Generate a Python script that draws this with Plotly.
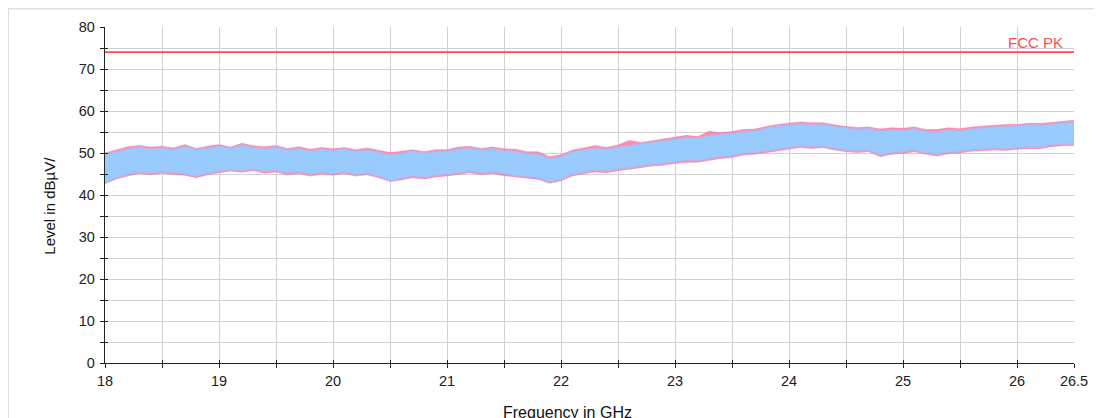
import plotly.graph_objects as go

# ---------------- data ----------------
freq_ghz = [
    18.0, 18.1, 18.2, 18.3, 18.4, 18.5, 18.6, 18.7, 18.8, 18.9,
    19.0, 19.1, 19.2, 19.3, 19.4, 19.5, 19.6, 19.7, 19.8, 19.9,
    20.0, 20.1, 20.2, 20.3, 20.4, 20.5, 20.6, 20.7, 20.8, 20.9,
    21.0, 21.1, 21.2, 21.3, 21.4, 21.5, 21.6, 21.7, 21.8, 21.9,
    22.0, 22.1, 22.2, 22.3, 22.4, 22.5, 22.6, 22.7, 22.8, 22.9,
    23.0, 23.1, 23.2, 23.3, 23.4, 23.5, 23.6, 23.7, 23.8, 23.9,
    24.0, 24.1, 24.2, 24.3, 24.4, 24.5, 24.6, 24.7, 24.8, 24.9,
    25.0, 25.1, 25.2, 25.3, 25.4, 25.5, 25.6, 25.7, 25.8, 25.9,
    26.0, 26.1, 26.2, 26.3, 26.4, 26.5,
]

# blue trace: upper / lower envelope of the noise band (dBµV/m)
blue_upper = [
    49.5, 50.2, 50.8, 51.3, 50.9, 51.1, 50.6, 51.4, 50.7, 51.0,
    51.5, 51.0, 51.8, 51.2, 50.9, 51.3, 50.6, 50.9, 50.4, 50.8,
    50.5, 50.9, 50.2, 50.6, 50.1, 49.5, 49.8, 50.3, 49.9, 50.2,
    50.3, 50.8, 51.1, 50.6, 50.9, 50.4, 50.2, 49.8, 49.6, 48.6,
    49.0, 50.2, 50.6, 51.0, 50.7, 51.3, 51.6, 52.0, 52.4, 52.8,
    53.2, 53.6, 53.4, 54.0, 54.3, 54.6, 55.0, 55.2, 55.8, 56.3,
    56.5, 56.9, 56.6, 56.8, 56.2, 55.8, 55.5, 55.7, 55.2, 55.4,
    55.3, 55.6, 55.0, 54.8, 55.4, 55.2, 55.6, 55.9, 56.0, 56.2,
    56.3, 56.6, 56.4, 56.8, 57.0, 57.3,
]
blue_lower = [
    43.0, 44.2, 45.0, 45.6, 45.3, 45.7, 45.4, 45.2, 44.6, 45.3,
    45.8, 46.2, 45.9, 46.3, 45.8, 46.0, 45.4, 45.6, 45.1, 45.5,
    45.2, 45.6, 45.0, 45.3, 44.6, 43.6, 44.1, 44.6, 44.3, 44.8,
    45.0, 45.4, 45.8, 45.3, 45.6, 45.2, 44.8, 44.4, 44.2, 43.2,
    43.8, 45.0, 45.6, 46.0, 45.8, 46.3, 46.6, 47.0, 47.4, 47.6,
    48.0, 48.4, 48.3, 48.8, 49.2, 49.5, 50.0, 50.2, 50.6, 51.0,
    51.4, 51.8, 51.6, 51.8, 51.2, 50.8, 50.6, 50.8, 49.6, 50.2,
    50.4, 50.8, 50.2, 49.8, 50.3, 50.5, 50.9, 51.0, 51.2, 51.1,
    51.4, 51.6, 51.5, 52.0, 52.2, 52.3,
]

# pink trace: upper / lower envelope (peeks out around the blue band)
pink_upper = [
    50.0, 50.7, 51.5, 51.8, 51.4, 51.6, 51.2, 52.0, 51.1, 51.6,
    52.0, 51.4, 52.3, 51.7, 51.5, 51.8, 51.1, 51.5, 50.9, 51.3,
    51.0, 51.3, 50.8, 51.2, 50.6, 50.1, 50.4, 50.8, 50.3, 50.8,
    50.8, 51.4, 51.6, 51.1, 51.4, 51.0, 50.9, 50.3, 50.3, 49.1,
    49.6, 50.7, 51.2, 51.8, 51.3, 51.9, 53.0, 52.5, 52.9, 53.3,
    53.7, 54.2, 53.9, 55.2, 54.8, 55.1, 55.6, 55.7, 56.3, 56.8,
    57.1, 57.4, 57.2, 57.2, 56.7, 56.3, 56.1, 56.2, 55.7, 56.0,
    55.9, 56.2, 55.6, 55.6, 56.0, 55.8, 56.2, 56.4, 56.6, 56.8,
    56.8, 57.1, 57.0, 57.3, 57.5, 57.8,
]
pink_lower = [
    42.7, 43.8, 44.5, 45.1, 44.8, 45.2, 44.9, 44.7, 44.1, 44.8,
    45.3, 45.7, 45.4, 45.8, 45.2, 45.5, 44.8, 45.1, 44.5, 45.0,
    44.7, 45.1, 44.5, 44.8, 44.1, 43.2, 43.6, 44.1, 43.8, 44.3,
    44.5, 44.9, 45.3, 44.8, 45.1, 44.6, 44.3, 43.9, 43.7, 42.8,
    43.4, 44.5, 45.1, 45.5, 45.3, 45.8, 46.1, 46.5, 46.9, 47.1,
    47.5, 47.8, 47.8, 48.3, 48.7, 48.9, 49.5, 49.7, 50.1, 50.5,
    50.9, 51.3, 51.1, 51.3, 50.7, 50.3, 50.1, 50.3, 49.1, 49.7,
    49.9, 50.3, 49.7, 49.3, 49.8, 50.0, 50.4, 50.5, 50.7, 50.6,
    50.9, 51.1, 51.0, 51.5, 51.7, 51.8,
]

# limit line
limit_name = "FCC PK"
limit_freq = [18.0, 26.5]
limit_level = [74, 74]

# axis ticks
x_tickvals = [18.0, 18.5, 19.0, 19.5, 20.0, 20.5, 21.0, 21.5, 22.0, 22.5,
              23.0, 23.5, 24.0, 24.5, 25.0, 25.5, 26.0, 26.5]
x_ticktext = ["18", "", "19", "", "20", "", "21", "", "22", "",
              "23", "", "24", "", "25", "", "26", "26.5"]
y_tickvals = [0, 5, 10, 15, 20, 25, 30, 35, 40, 45, 50, 55, 60, 65, 70, 75, 80]
y_ticktext = ["0", "", "10", "", "20", "", "30", "", "40", "", "50", "",
              "60", "", "70", "", "80"]

x_title = "Frequency in GHz"
y_title = "Level in dBµV/"

# ---------------- styling ----------------
FONT = "Liberation Sans, Arial, sans-serif"
PINK = "rgba(255,100,150,0.75)"
BLUE = "#99cbff"
BLUE_EDGE = "rgba(153,203,255,0.55)"
RED = "#ff4d4d"
GRID = "#d2d2d2"
AXIS = "#222222"

# page body has an 8px margin, so the figure starts at (8, 8) on screen
W, H = 1094, 410
ML, MR, MT, MB = 97.3, 27.7, 18.7, 54.7
PW = W - ML - MR
PH = H - MT - MB

fig = go.Figure()

# pink band
fig.add_trace(go.Scatter(x=freq_ghz, y=pink_lower, mode="lines",
                         line=dict(color=PINK, width=0.5), showlegend=False,
                         hoverinfo="skip"))
fig.add_trace(go.Scatter(x=freq_ghz, y=pink_upper, mode="lines",
                         line=dict(color=PINK, width=0.5), fill="tonexty",
                         fillcolor=PINK, showlegend=False, hoverinfo="skip"))
# blue band
fig.add_trace(go.Scatter(x=freq_ghz, y=blue_lower, mode="lines",
                         line=dict(color=BLUE_EDGE, width=3), showlegend=False,
                         hoverinfo="skip"))
fig.add_trace(go.Scatter(x=freq_ghz, y=blue_upper, mode="lines",
                         line=dict(color=BLUE_EDGE, width=3), fill="tonexty",
                         fillcolor=BLUE, showlegend=False, hoverinfo="skip"))
# limit line
fig.add_trace(go.Scatter(x=limit_freq, y=limit_level, mode="lines",
                         line=dict(color=RED, width=1.8), showlegend=False,
                         hoverinfo="skip"))
# dummy trace for the overlay (inside tick) axes
fig.add_trace(go.Scatter(x=[None], y=[None], xaxis="x2", yaxis="y2",
                         showlegend=False, hoverinfo="skip"))

axis_common = dict(
    showgrid=True, gridcolor=GRID, gridwidth=1,
    showline=True, linecolor=AXIS, linewidth=1.3,
    ticks="outside", ticklen=4, tickcolor=AXIS, tickwidth=1,
    tickfont=dict(family=FONT, size=14.5, color=AXIS),
    zeroline=False, fixedrange=True, tickmode="array",
)

fig.update_layout(
    width=W, height=H,
    margin=dict(l=ML, r=MR, t=MT, b=MB, pad=0),
    paper_bgcolor="white", plot_bgcolor="white",
    showlegend=False,
    xaxis=dict(range=[18, 26.5], tickvals=x_tickvals, ticktext=x_ticktext,
               **axis_common),
    yaxis=dict(range=[0, 80], tickvals=y_tickvals, ticktext=y_ticktext,
               ticklabelstandoff=2, **axis_common),
    xaxis2=dict(range=[18, 26.5], overlaying="x", side="bottom",
                tickmode="array", tickvals=x_tickvals, showticklabels=False,
                ticks="inside", ticklen=3, tickcolor=AXIS, showgrid=False,
                showline=False, zeroline=False, fixedrange=True),
    yaxis2=dict(range=[0, 80], overlaying="y", side="left",
                tickmode="array", tickvals=y_tickvals, showticklabels=False,
                ticks="inside", ticklen=3, tickcolor=AXIS, showgrid=False,
                showline=False, zeroline=False, fixedrange=True),
    annotations=[
        dict(text=limit_name, x=26.5, y=74, xref="x", yref="y",
             xanchor="right", yanchor="bottom", xshift=-9, yshift=-1,
             showarrow=False, font=dict(family=FONT, size=15, color=RED)),
        dict(text=x_title, x=(560 - ML) / PW, y=(H - MB - 394) / PH,
             xref="paper", yref="paper", xanchor="center", yanchor="top",
             showarrow=False, font=dict(family=FONT, size=16, color="#111")),
        dict(text=y_title, x=(42 - ML) / PW, y=(H - MB - 198) / PH,
             xref="paper", yref="paper", xanchor="center", yanchor="middle",
             textangle=-90, showarrow=False,
             font=dict(family=FONT, size=15, color="#111")),
    ],
    shapes=[
        dict(type="rect", xref="paper", yref="paper",
             x0=(0.5 - ML) / PW, x1=1.2,
             y0=-0.5, y1=(H - MB - 0.5) / PH,
             line=dict(color="#cfcfcf", width=1), layer="below"),
    ],
)

fig.write_html("out.html")
